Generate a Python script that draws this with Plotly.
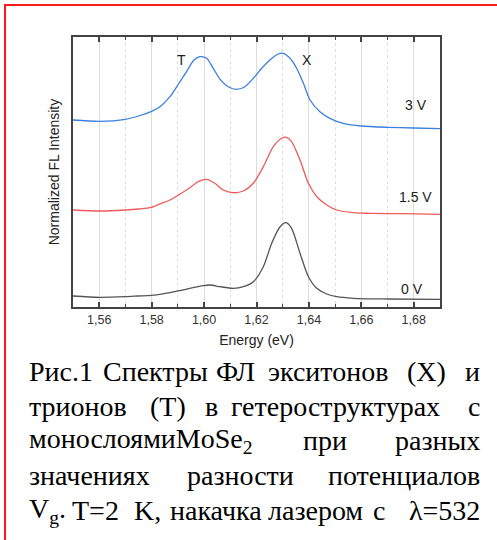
import plotly.graph_objects as go

# Photoluminescence spectra of MoSe2 heterostructure at three gate voltages
# (intensity normalized and offset vertically for clarity)
energy_0v = [1.550, 1.560, 1.570, 1.575, 1.580, 1.5837, 1.587, 1.593, 1.5997, 1.6022,
             1.6061, 1.6111, 1.615, 1.6188, 1.6226, 1.6258, 1.629, 1.6312, 1.6334,
             1.6366, 1.6398, 1.643, 1.6468, 1.6506, 1.657, 1.6697, 1.690]
intensity_0v = [0.110, 0.097, 0.103, 0.110, 0.117, 0.128, 0.143, 0.177, 0.213, 0.220,
                0.203, 0.187, 0.203, 0.253, 0.403, 0.637, 0.803, 0.843, 0.787,
                0.537, 0.303, 0.187, 0.130, 0.103, 0.087, 0.080, 0.077]

energy_15v = [1.550, 1.560, 1.570, 1.575, 1.580, 1.5837, 1.587, 1.5933, 1.5978, 1.601,
              1.6041, 1.6073, 1.6111, 1.615, 1.6188, 1.6226, 1.6264, 1.6296, 1.6315,
              1.6334, 1.6366, 1.6398, 1.643, 1.6468, 1.6506, 1.657, 1.6633, 1.676,
              1.690]
intensity_15v = [0.970, 0.960, 0.970, 0.980, 0.997, 1.037, 1.070, 1.170, 1.253, 1.277,
                 1.237, 1.170, 1.143, 1.160, 1.237, 1.403, 1.603, 1.687, 1.697,
                 1.653, 1.470, 1.237, 1.103, 1.020, 0.970, 0.943, 0.937, 0.933,
                 0.927]

energy_3v = [1.550, 1.560, 1.570, 1.575, 1.580, 1.5832, 1.587, 1.590, 1.5933, 1.5959,
             1.5984, 1.601, 1.6035, 1.6061, 1.6092, 1.6124, 1.6156, 1.6188, 1.622,
             1.6251, 1.6283, 1.6302, 1.6328, 1.6353, 1.6379, 1.6404, 1.6442, 1.648,
             1.6531, 1.660, 1.670, 1.680, 1.690]
intensity_3v = [1.870, 1.857, 1.877, 1.910, 1.957, 2.003, 2.103, 2.220, 2.353, 2.463,
                2.503, 2.487, 2.387, 2.277, 2.203, 2.177, 2.203, 2.287, 2.387,
                2.470, 2.530, 2.537, 2.487, 2.387, 2.237, 2.070, 1.953, 1.887,
                1.837, 1.810, 1.797, 1.790, 1.783]

series_labels = ["0 V", "1.5 V", "3 V"]
peak_labels = ["T", "X"]

W, H = 497, 540
ML, MR, MT, MB = 73, 57, 37, 233
PW, PH = W - ML - MR, H - MT - MB


def px(x):
    return (x - ML) / PW


def py(y):
    return (H - MB - y) / PH


fig = go.Figure()
traces = [
    (energy_0v, intensity_0v, "#555555"),
    (energy_15v, intensity_15v, "#f05a5a"),
    (energy_3v, intensity_3v, "#3a80e2"),
]
for e, i, c in traces:
    fig.add_trace(go.Scatter(
        x=e, y=i, mode="lines",
        line=dict(color=c, width=1.3, shape="spline", smoothing=0.7),
        showlegend=False, hoverinfo="skip",
    ))

sans = "Liberation Sans, Arial, sans-serif"
serif = "Liberation Serif, Times New Roman, serif"

annotations = []
# curve and peak labels
for text, x, y in [(series_labels[2], 1.6810, 2.02), (series_labels[1], 1.6805, 1.103),
                   (series_labels[0], 1.6795, 0.183),
                   (peak_labels[0], 1.5915, 2.47), (peak_labels[1], 1.6393, 2.47)]:
    annotations.append(dict(x=x, y=y, xref="x", yref="y", text=text, showarrow=False,
                            xanchor="center", yanchor="middle",
                            font=dict(family=sans, size=14, color="#222222")))

# figure caption, justified: first word flush left, last word flush right,
# inner words centred at their slots
CAP_SIZE = 28
LEFT, RIGHT = 26.7, 481.7
caption_lines = [
    (371, "Рис.1", [("Спектры", 155.5), ("ФЛ", 235.8), ("экситонов", 328.3),
                    ("(X)", 426.7)], "и"),
    (406, "трионов", [("(Т)", 168.3), ("в", 211.7), ("гетероструктурах", 335)], "с"),
    (440.6, "монослоямиMoSe<sub>2</sub>", [("при", 325)], "разных"),
    (475.3, "значениях", [("разности", 240)], "потенциалов"),
    (510, "V<sub>g</sub>.", [("T=2", 95), ("K,", 147.5), ("накачка", 215.8),
                             ("лазером", 315), ("с", 379.2)], "λ=532"),
]
cap_font = dict(family=serif, size=CAP_SIZE, color="#000000")
for yc, first, inner, last in caption_lines:
    placed = [(first, LEFT, "left")] + [(w, xc, "center") for w, xc in inner] + \
             [(last, RIGHT, "right")]
    for w, xpos, anchor in placed:
        annotations.append(dict(x=px(xpos), y=py(yc), xref="paper", yref="paper",
                                text=w, showarrow=False, xanchor=anchor,
                                yanchor="middle", font=cap_font))

fig.update_layout(
    width=W, height=H,
    margin=dict(l=ML, r=MR, t=MT, b=MB, pad=0),
    paper_bgcolor="white", plot_bgcolor="white",
    separators=", ",
    annotations=annotations,
    shapes=[dict(type="rect", xref="paper", yref="paper",
                 x0=px(5), x1=px(520), y0=py(5), y1=py(570),
                 line=dict(color="#ff1a1a", width=2), fillcolor="rgba(0,0,0,0)",
                 layer="above")],
    xaxis=dict(
        range=[1.55, 1.69], tick0=1.56, dtick=0.02, tickformat=".2f",
        ticks="inside", ticklen=5, tickwidth=1.5, tickcolor="#444444",
        showline=True, linecolor="#444444", linewidth=2, mirror="ticks",
        showgrid=True, gridcolor="#dcdcdc", gridwidth=1, zeroline=False,
        minor=dict(tick0=1.55, dtick=0.01, ticks="inside", ticklen=3, tickwidth=1.2,
                   tickcolor="#444444", showgrid=True, gridcolor="#dedede",
                   griddash="dot", gridwidth=1),
        tickfont=dict(family=sans, size=12.5, color="#333333"),
        title=dict(text="Energy (eV)", standoff=9,
                   font=dict(family=sans, size=14, color="#222222")),
    ),
    yaxis=dict(
        range=[0, 2.70], showticklabels=False, ticks="", showgrid=False,
        zeroline=False, showline=True, linecolor="#444444", linewidth=2, mirror=True,
        title=dict(text="Normalized FL Intensity", standoff=8,
                   font=dict(family=sans, size=14, color="#222222")),
    ),
)

fig.write_html("out.html")
